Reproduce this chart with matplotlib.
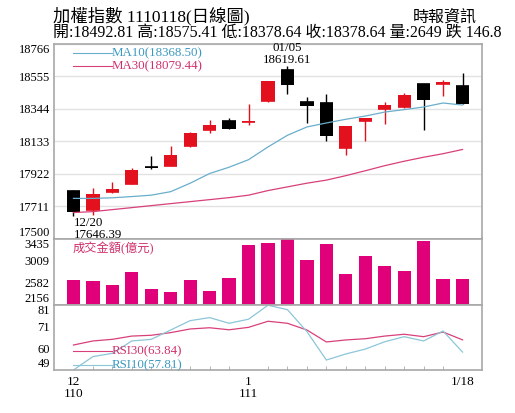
import numpy as np
import matplotlib
matplotlib.use("Agg")
import matplotlib.pyplot as plt

plt.rcParams['font.family'] = ['Liberation Serif', 'Noto Sans CJK TC']

# daily data 12/20 (110) .. 1/18 (111)
opens = [17808, 17685, 17802, 17854, 17963, 17973, 18100, 18204, 18263, 18256, 18393,
         18594, 18388, 18382, 18092, 18263, 18343, 18354, 18503, 18508, 18492.81]
highs = [17815, 17826, 17865, 17956, 18038, 18100, 18192, 18274, 18284, 18373, 18525,
         18619.61, 18423, 18443, 18235, 18285, 18388, 18449, 18505, 18529, 18575.41]
lows = [17646.39, 17653, 17797, 17852, 17953, 17971, 18097, 18187, 18213, 18237, 18390,
        18443, 18252, 18133, 18042, 18133, 18248, 18352, 18209, 18430, 18378.64]
closes = [17670, 17787, 17823, 17943, 17960, 18044, 18189, 18241, 18215, 18267, 18522,
          18497, 18363, 18165, 18232, 18282, 18369, 18432, 18399, 18521, 18378.64]
ma10 = [17761, 17761, 17765, 17773, 17782, 17805, 17860, 17923, 17964, 18013, 18096,
        18172, 18226, 18252, 18276, 18297, 18323, 18339, 18356, 18382, 18368.50]
ma30 = [17669, 17675, 17688, 17701, 17714, 17727, 17740, 17753, 17766, 17782, 17812,
        17836, 17860, 17880, 17909, 17941, 17974, 18003, 18029, 18052, 18079.44]
volume = [2640, 2627, 2550, 2796, 2460, 2402, 2634, 2427, 2666, 3305, 3358,
          3435, 3015, 3325, 2757, 3100, 2906, 2815, 3383, 2654, 2649]
rsi10 = [49.0, 55.6, 57.2, 63.3, 64.1, 68.7, 73.3, 74.8, 72.0, 74.0, 80.9,
         78.7, 67.9, 53.9, 56.9, 59.3, 62.9, 65.4, 63.3, 68.2, 57.81]
rsi30 = [61.3, 63.3, 64.1, 65.7, 66.1, 67.4, 69.2, 69.8, 68.8, 70.0, 73.0,
         72.0, 68.7, 62.8, 63.8, 64.4, 65.7, 66.6, 65.4, 67.7, 63.84]

price_ticks = [17500, 17711, 17922, 18133, 18344, 18555, 18766]
vol_ticks = [2156, 2582.3, 3008.7, 3435]
vol_labels = ['2156', '2582', '3009', '3435']
rsi_ticks = [49, 59.67, 70.33, 81]
rsi_labels = ['49', '60', '71', '81']
x_tick_pos = [0, 9, 20]
x_tick_labels = ['12\n110', '1\n111', '1/18']

UP = '#e3101e'
DOWN = '#000000'
BAR = '#e0007a'
PINK = '#d8407a'
BLUE = '#6aaecb'
EDGE = '#a8a8a8'

W, H = 515, 413
fig = plt.figure(figsize=(W / 100, H / 100), dpi=100)


def box(top, bottom, left=54, right=482):
    return [left / W, (H - bottom) / H, (right - left) / W, (bottom - top) / H]


ax = fig.add_axes(box(44, 238.5))
axv = fig.add_axes(box(238.5, 305))
axr = fig.add_axes(box(305, 370))

x = np.arange(len(closes))
for a in (ax, axv, axr):
    a.set_xlim(-1, 21)
    for s in a.spines.values():
        s.set_color(EDGE)
        s.set_linewidth(1.2)
    a.tick_params(axis='y', length=0, pad=3, labelsize=9)
    a.tick_params(axis='x', length=0, labelbottom=False)

# candles
for i in x:
    o, h, l, c = opens[i], highs[i], lows[i], closes[i]
    col = UP if c >= o else DOWN
    ax.vlines(i, l, h, color=col, linewidth=1, zorder=2)
    ax.bar(i, abs(c - o), bottom=min(o, c), width=0.68, color=col, zorder=3)
    ax.hlines(o, i - 0.34, i + 0.34, color=col, linewidth=1.2, zorder=3)

ax.plot(x, ma10, color=BLUE, linewidth=0.9, zorder=4)
ax.plot(x, ma30, color=PINK, linewidth=0.9, zorder=4)
ax.set_ylim(price_ticks[0], price_ticks[-1])
ax.set_yticks(price_ticks)
ax.set_yticklabels([str(t) for t in price_ticks])
ax.grid(axis='y', color='#e2e2e2', linewidth=1)
ax.set_axisbelow(True)

ax.plot([0.044, 0.1355], [0.954, 0.954], color=BLUE, linewidth=0.8, transform=ax.transAxes)
ax.plot([0.044, 0.1355], [0.887, 0.887], color=PINK, linewidth=0.8, transform=ax.transAxes)
ax.text(0.1355, 0.954, 'MA10(%.2f)' % ma10[-1], color='#3b98c0', fontsize=9.3,
        va='center', ha='left', transform=ax.transAxes)
ax.text(0.1355, 0.887, 'MA30(%.2f)' % ma30[-1], color='#d0306a', fontsize=9.3,
        va='center', ha='left', transform=ax.transAxes)

hi = int(np.argmax(highs))
lo = int(np.argmin(lows))
ax.text(hi, 18743, '01/05', ha='center', va='center', fontsize=9.3)
ax.text(hi, 18659, '%.2f' % highs[hi], ha='center', va='center', fontsize=9.3)
ax.text(lo, 17600, '12/20', ha='left', va='center', fontsize=9.3)
ax.text(lo, 17522, '%.2f' % lows[lo], ha='left', va='center', fontsize=9.3, clip_on=False)

# volume
axv.bar(x, volume, width=0.68, color=BAR)
axv.set_ylim(vol_ticks[0], vol_ticks[-1])
axv.set_yticks(vol_ticks)
axv.set_yticklabels(vol_labels)
axv.text(0.044, 0.855, '成交金額(億元)', color='#d0306a', fontsize=8.8,
         va='center', ha='left', transform=axv.transAxes)

# rsi
axr.plot(x, rsi30, color=PINK, linewidth=0.9)
axr.plot(x, rsi10, color='#8cc6d8', linewidth=0.9)
axr.set_ylim(rsi_ticks[0], rsi_ticks[-1])
axr.set_yticks(rsi_ticks)
axr.set_yticklabels(rsi_labels)
axr.plot([0.044, 0.1355], [0.292, 0.292], color=PINK, linewidth=0.8, transform=axr.transAxes)
axr.plot([0.044, 0.1355], [0.077, 0.077], color='#8cc6d8', linewidth=0.8, transform=axr.transAxes)
axr.text(0.1355, 0.292, 'RSI30(%.2f)' % rsi30[-1], color='#d0306a', fontsize=9.3,
         va='center', ha='left', transform=axr.transAxes)
axr.text(0.1355, 0.077, 'RSI10(%.2f)' % rsi10[-1], color='#3b98c0', fontsize=9.3,
         va='center', ha='left', transform=axr.transAxes)

axr.set_xticks(x_tick_pos)
axr.set_xticklabels(x_tick_labels, linespacing=1.05)
axr.set_xticks(x, minor=True)
axr.tick_params(axis='x', which='both', length=0, labelbottom=True, labelsize=9.5, pad=4)
axr.tick_params(axis='x', which='minor', direction='in', length=3, color=EDGE)

# shift extreme y labels inwards
for a in (ax, axv, axr):
    labs = a.get_yticklabels()
    labs[0].set_va('bottom')
    labs[-1].set_va('top')

fig.text(53 / W, 1 - 16 / H, '加權指數 1110118(日線圖)', fontsize=12.5, va='center', ha='left')
fig.text(477 / W, 1 - 18 / H, '時報資訊', fontsize=11.5, va='center', ha='right')
head = '開:%.2f 高:%.2f 低:%.2f 收:%.2f 量:%d 跌 146.8' % (opens[-1], highs[-1], lows[-1],
                                                         closes[-1], volume[-1])
fig.text(53 / W, 1 - 33 / H, head, fontsize=11.5, va='center', ha='left')

fig.savefig('out.png', dpi=100)
